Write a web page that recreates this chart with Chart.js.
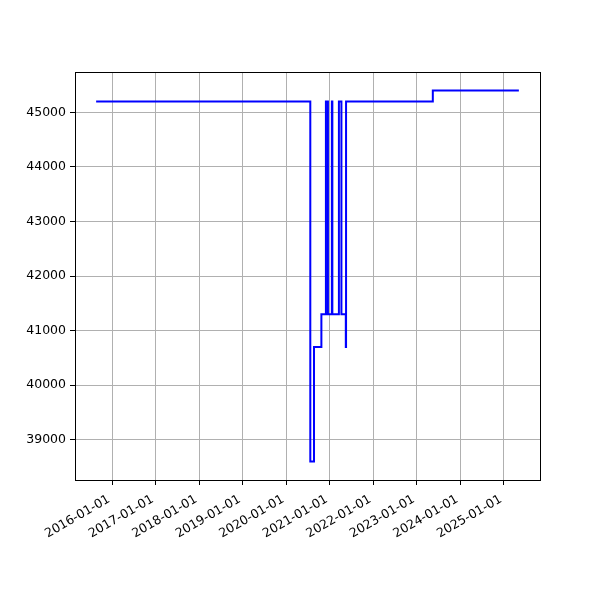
<!DOCTYPE html>
<html>
<head>
<meta charset="utf-8">
<script src="https://cdn.jsdelivr.net/npm/chart.js@4"></script>
<style>
  html, body { margin: 0; padding: 0; background: #fff; }
  #wrap { width: 600px; height: 600px; }
</style>
</head>
<body>
<div id="wrap"><canvas id="chart" width="600" height="600"></canvas></div>
<script>
// step dates (value holds from each date until the next one)
const dates = [
    '2015-08-20', '2020-07-21', '2020-08-21', '2020-10-22',
    '2020-11-29', '2020-12-16', '2021-01-18', '2021-01-22',
    '2021-03-18', '2021-04-08', '2021-05-15', '2021-05-17',
    '2023-05-15', '2025-05-06'
];
const values = [
    45200, 38600, 40700, 41300,
    45200, 41300, 45200, 41300,
    45200, 41300, 40700, 45200,
    45400, 45400
];
const yearTicks = [
    '2016-01-01', '2017-01-01', '2018-01-01', '2019-01-01', '2020-01-01',
    '2021-01-01', '2022-01-01', '2023-01-01', '2024-01-01', '2025-01-01'
];
const yTicks = [39000, 40000, 41000, 42000, 43000, 44000, 45000];

const xs = dates.map(function (d) { return Date.parse(d + 'T00:00:00Z'); });
const xMin = xs[0] - (xs[xs.length - 1] - xs[0]) * 0.05;
const xMax = xs[xs.length - 1] + (xs[xs.length - 1] - xs[0]) * 0.05;
const yLo = Math.min.apply(null, values), yHi = Math.max.apply(null, values);
const yMin = yLo - (yHi - yLo) * 0.05;
const yMax = yHi + (yHi - yLo) * 0.05;

const frame = {
    id: 'frame',
    afterDraw: function (chart) {
        const a = chart.chartArea, ctx = chart.ctx;
        ctx.save();
        ctx.strokeStyle = '#000';
        ctx.lineWidth = 1;
        ctx.strokeRect(Math.round(a.left) + 0.5, Math.round(a.top) + 0.5,
            Math.round(a.right - a.left), Math.round(a.bottom - a.top));
        ctx.restore();
    }
};

new Chart(document.getElementById('chart'), {
    type: 'line',
    data: {
        datasets: [{
            data: xs.map(function (x, i) { return { x: x, y: values[i] }; }),
            borderColor: '#0000ff',
            borderWidth: 2,
            stepped: true,
            pointRadius: 0,
            fill: false,
        }],
    },
    options: {
        responsive: false,
        animation: false,
        layout: { padding: { top: 72, right: 60, left: 0, bottom: 0 } },
        plugins: {
            legend: { display: false },
            tooltip: { enabled: false },
        },
        scales: {
            x: {
                type: 'linear',
                min: xMin,
                max: xMax,
                afterBuildTicks: function (scale) {
                    scale.ticks = yearTicks.map(function (d) {
                        return { value: Date.parse(d + 'T00:00:00Z') };
                    });
                },
                afterFit: function (scale) { scale.height = 120; },
                grid: { color: '#b0b0b0', tickColor: '#000', tickLength: 5 },
                border: { display: false },
                ticks: {
                    autoSkip: false,
                    maxRotation: 30,
                    minRotation: 30,
                    padding: 7,
                    labelOffset: -3,
                    color: '#000',
                    font: { family: 'DejaVu Sans', size: 12.5 },
                    callback: function (v) {
                        return new Date(v).toISOString().slice(0, 10);
                    },
                },
            },
            y: {
                type: 'linear',
                min: yMin,
                max: yMax,
                afterBuildTicks: function (scale) {
                    scale.ticks = yTicks.map(function (v) { return { value: v }; });
                },
                afterFit: function (scale) { scale.width = 75; },
                grid: { color: '#b0b0b0', tickColor: '#000', tickLength: 5 },
                border: { display: false },
                ticks: {
                    color: '#000',
                    padding: 4,
                    font: { family: 'DejaVu Sans', size: 12.5 },
                    callback: function (v) { return String(v); },
                },
            },
        },
    },
    plugins: [frame],
});
</script>
</body>
</html>
